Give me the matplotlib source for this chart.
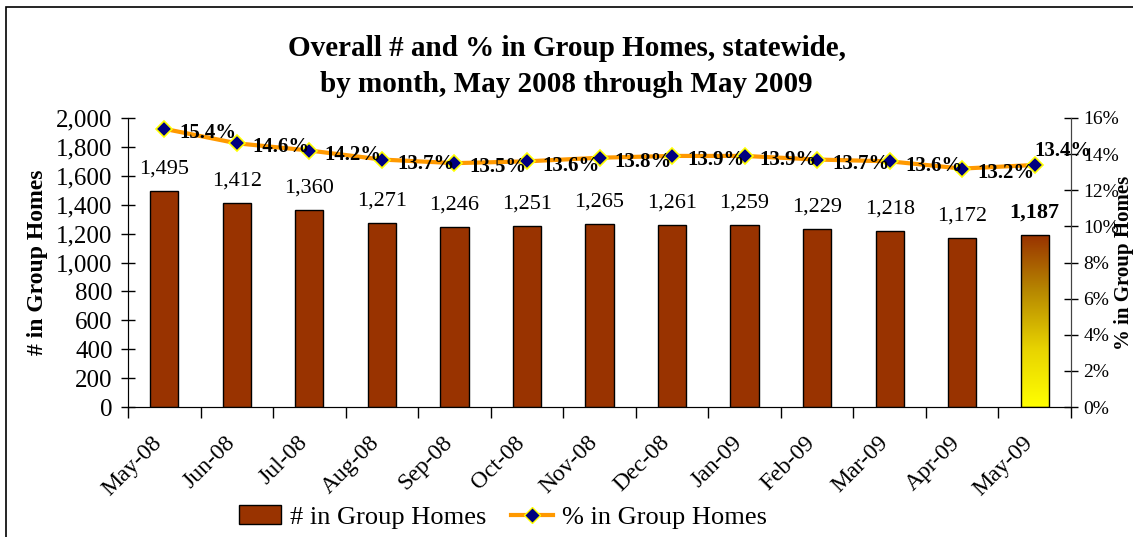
#!/usr/bin/env python3

import numpy as np
from matplotlib import pyplot as plt
from matplotlib.colors import LinearSegmentedColormap
from matplotlib.patches import Rectangle
from matplotlib.lines import Line2D
from matplotlib.ticker import FuncFormatter, MultipleLocator
from matplotlib.transforms import ScaledTranslation

months = ["May-08", "Jun-08", "Jul-08", "Aug-08", "Sep-08", "Oct-08", "Nov-08",
          "Dec-08", "Jan-09", "Feb-09", "Mar-09", "Apr-09", "May-09"]
counts = [1495, 1412, 1360, 1271, 1246, 1251, 1265, 1261, 1259, 1229, 1218, 1172, 1187]
pcts = [15.4, 14.6, 14.2, 13.7, 13.5, 13.6, 13.8, 13.9, 13.9, 13.7, 13.6, 13.2, 13.4]

out_filename = "out.png"

bar_color = "#993300"
line_color = "#FF9900"


def main():
    plt.rcParams["font.family"] = ["Liberation Serif", "DejaVu Serif"]
    fig = plt.figure(figsize=(11.33, 5.37), dpi=100)
    ax = fig.add_axes([128 / 1133, 1 - 407 / 537, (1071 - 128) / 1133, (407 - 118) / 537])

    # outer chart frame (runs past right/bottom edges)
    fig.add_artist(Rectangle((6 / 1133, -0.05), 1.1, 1 - 7 / 537 + 0.05,
                             transform=fig.transFigure, fill=False,
                             edgecolor="black", linewidth=1.2))

    x = np.arange(len(months))
    width = 0.39
    bars = ax.bar(x, counts, width=width, color=bar_color, edgecolor="black",
                  linewidth=1.0, zorder=2)

    # gradient fill for the last bar
    last = bars[-1]
    last.set_facecolor("none")
    cmap = LinearSegmentedColormap.from_list("grad", ["#FFFF00", "#E8D400", "#B88A00", bar_color])
    grad = np.linspace(0, 1, 256).reshape(-1, 1)
    x0 = last.get_x()
    im = ax.imshow(grad, cmap=cmap, aspect="auto", origin="lower",
                   extent=[x0, x0 + width, 0, counts[-1]], zorder=1.9)
    im.set_clip_path(last)

    for i, v in enumerate(counts):
        bold = i == len(counts) - 1
        ax.annotate(f"{v:,}", (i, v), xytext=(0, 9), textcoords="offset points",
                    ha="center", va="bottom", fontsize=16,
                    fontweight="bold" if bold else "normal")

    ax.set_xlim(-0.5, len(months) - 0.5)
    ax.set_ylim(0, 2000)
    ax.yaxis.set_major_locator(MultipleLocator(200))
    ax.yaxis.set_major_formatter(FuncFormatter(lambda v, _: f"{int(v):,}"))
    ax.tick_params(axis="y", direction="inout", length=10, labelsize=18, width=1, pad=6)
    ax.set_xticks(x)
    ax.set_xticklabels(months, rotation=45, ha="right", rotation_mode="anchor", fontsize=17)
    ax.tick_params(axis="x", which="major", length=0, pad=18)
    shift = ScaledTranslation(-9 / 72, 0, fig.dpi_scale_trans)
    for lbl in ax.get_xticklabels():
        lbl.set_transform(lbl.get_transform() + shift)
    ax.set_xticks(np.arange(len(months) + 1) - 0.5, minor=True)
    ax.tick_params(axis="x", which="minor", direction="out", length=8, width=1)
    ax.spines["top"].set_visible(False)
    for s in ["left", "bottom", "right"]:
        ax.spines[s].set_color("#444444")
    ax.set_ylabel("# in Group Homes", fontsize=17, fontweight="bold")
    ax.yaxis.set_label_coords(-80 / 943, 0.5)

    ax2 = ax.twinx()
    ax2.plot(x, pcts, color=line_color, linewidth=3, marker="D", markersize=8,
             markerfacecolor="#000080", markeredgecolor="#FFFF00", markeredgewidth=1.2,
             zorder=3)
    for i, p in enumerate(pcts):
        # last label sits above the marker, next to the axis
        offset = (0, 10) if i == len(pcts) - 1 else (11, -3)
        ax2.annotate(f"{p:.1f}%", (i, p), xytext=offset, textcoords="offset points",
                     ha="left", va="center", fontsize=15, fontweight="bold")
    ax2.set_ylim(0, 16)
    ax2.yaxis.set_major_locator(MultipleLocator(2))
    ax2.yaxis.set_major_formatter(FuncFormatter(lambda v, _: f"{int(v)}%"))
    ax2.tick_params(axis="y", direction="inout", length=10, labelsize=14, width=1, pad=4)
    ax2.spines["top"].set_visible(False)
    ax2.spines["right"].set_color("#444444")
    ax2.set_ylabel("% in Group Homes", fontsize=15, fontweight="bold", rotation=90)
    ax2.yaxis.set_label_coords(1 + 43 / 943, 0.5)
    ax2.set_xlim(-0.5, len(months) - 0.5)

    fig.text(0.5, 1 - 48 / 537, "Overall # and % in Group Homes, statewide,",
             ha="center", va="center", fontsize=21, fontweight="bold")
    fig.text(0.5, 1 - 85 / 537, "by month, May 2008 through May 2009",
             ha="center", va="center", fontsize=21, fontweight="bold")

    handles = [
        Rectangle((0, 0), 1, 1, facecolor=bar_color, edgecolor="black"),
        Line2D([], [], color=line_color, linewidth=3, marker="D", markersize=8,
               markerfacecolor="#000080", markeredgecolor="#FFFF00"),
    ]
    fig.legend(handles, ["# in Group Homes", "% in Group Homes"], loc="center",
               bbox_to_anchor=(503 / 1133, 1 - 517 / 537), ncol=2, frameon=False,
               fontsize=19, columnspacing=0.9, handlelength=1.6, handletextpad=0.35)

    fig.savefig(out_filename, dpi=100)
    plt.close()


if __name__ == "__main__":
    main()
